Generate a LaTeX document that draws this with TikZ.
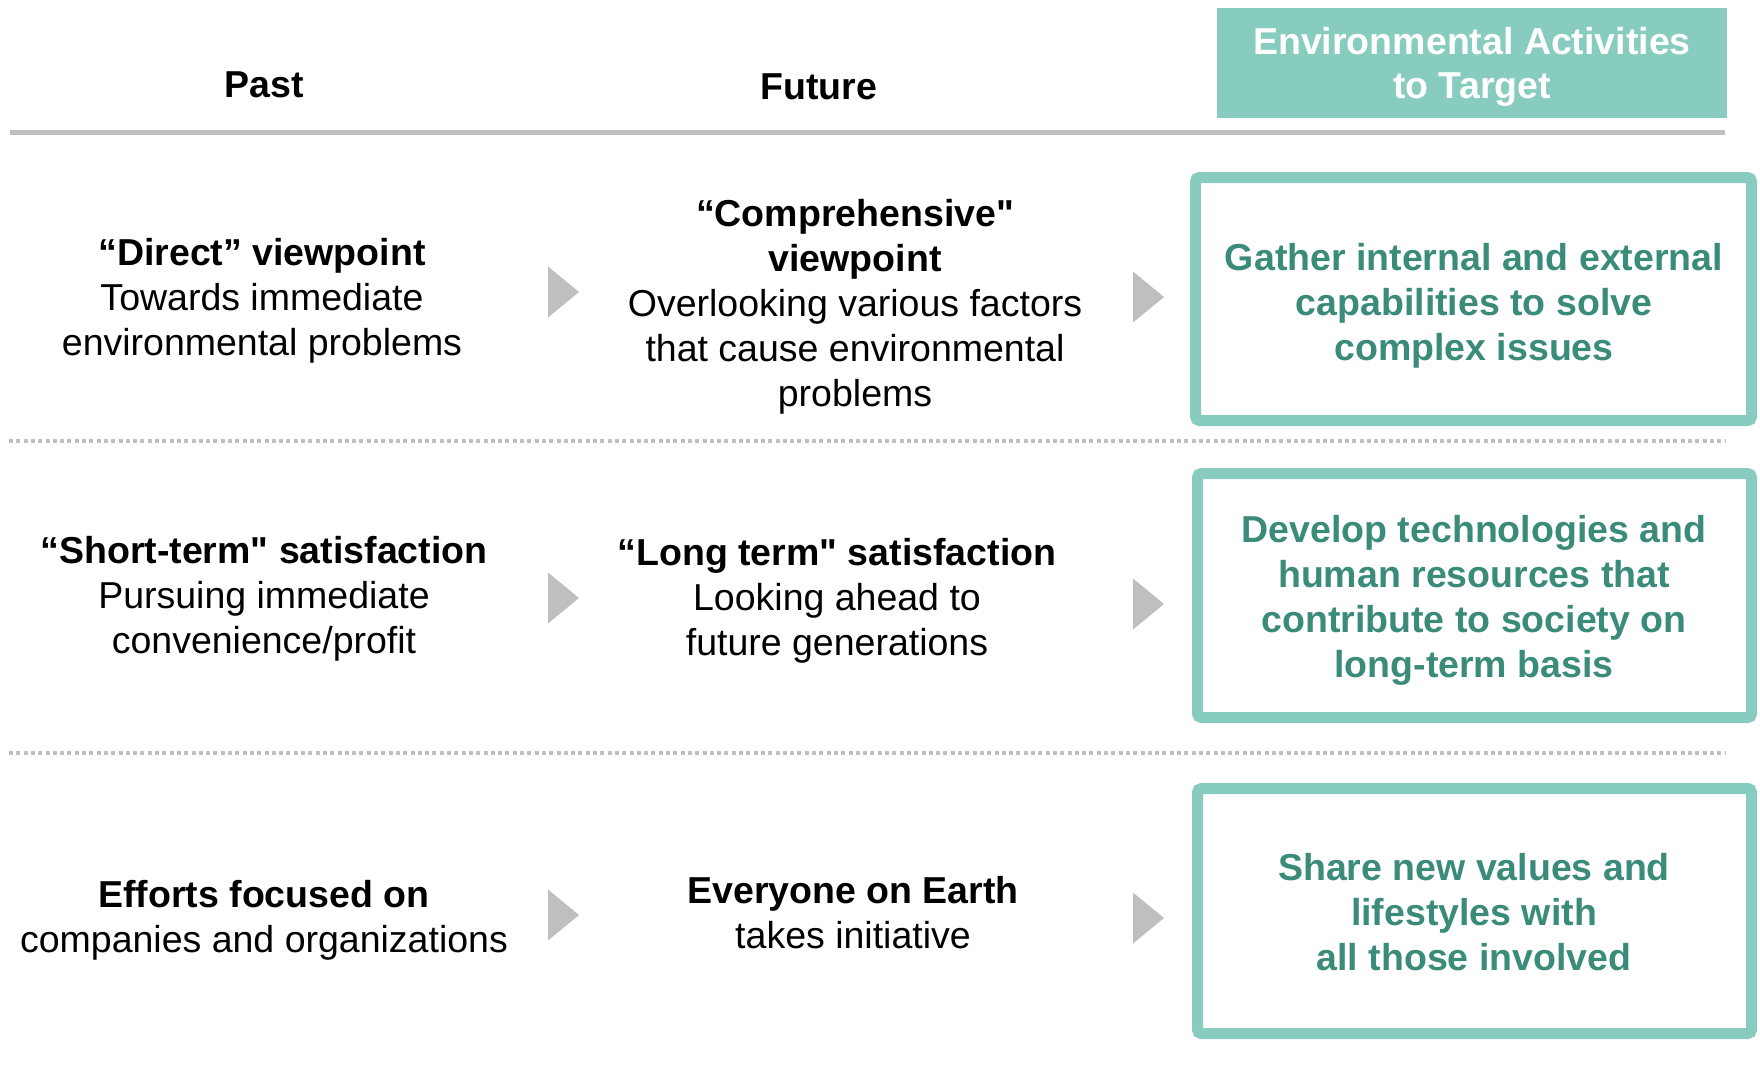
\documentclass[tikz,border=0pt]{standalone}
\usepackage{fontspec}
\setmainfont{Liberation Sans}[Ligatures=TeXOff]
\definecolor{tealfill}{HTML}{88CBBF}
\definecolor{tealtext}{HTML}{3B8B7B}
\definecolor{lgray}{HTML}{BFBFBF}
\begin{document}
\begin{tikzpicture}[x=1pt,y=-1pt,
  every node/.style={inner sep=0pt,outer sep=0pt,align=center,font=\fontsize{37.5}{45}\selectfont},
  plaintext/.style={text=black},
  targettext/.style={text=tealtext,font=\fontsize{37.5}{45}\selectfont\bfseries},
  headtext/.style={font=\fontsize{37.5}{44.5}\selectfont\bfseries},
  frame/.style={draw=tealfill,line width=11pt,rounded corners=4pt},
  rule/.style={draw=lgray,line width=5pt},
  dotrule/.style={draw=lgray,line width=4pt,dash pattern=on 4pt off 3.3pt},
  tri/.style={fill=lgray}
]
\useasboundingbox (0,0) rectangle (1760,1073);
\fill[white] (0,0) rectangle (1760,1073);

% header
\node[headtext] (past) at (264,85) {Past};
\node[headtext] (future) at (819,87) {Future};
\fill[tealfill] (1217,8) rectangle (1727,118);
\node[headtext,text=white] (target) at (1472,67) {Environmental Activities\\to Target};
\coordinate (ruleL) at (10,132);
\coordinate (ruleR) at (1725,132);
\draw[rule] (ruleL) -- (ruleR);

% separators
\coordinate (d1L) at (9,441);
\coordinate (d1R) at (1725,441);
\coordinate (d2L) at (9,753);
\coordinate (d2R) at (1725,753);
\draw[dotrule] (d1L) -- (d1R);
\draw[dotrule] (d2L) -- (d2R);

% row 1
\node[plaintext] (p1) at (262,300.5) {\textbf{“Direct” viewpoint}\\Towards immediate\\environmental problems};
\node[plaintext] (f1) at (855,307) {\textbf{“Comprehensive"}\\\textbf{viewpoint}\\Overlooking various factors\\that cause environmental\\problems};
\draw[frame] (1195.5,177.5) rectangle (1751.5,420.5);
\node[targettext] (t1) at (1474,305.5) {Gather internal and external\\capabilities to solve\\complex issues};

% row 2
\node[plaintext] (p2) at (264,598.5) {\textbf{“Short-term" satisfaction}\\Pursuing immediate\\convenience/profit};
\node[plaintext] (f2) at (837,600.5) {\textbf{“Long term" satisfaction}\\Looking ahead to\\future generations};
\draw[frame] (1197.5,473.5) rectangle (1751.5,717.5);
\node[targettext] (t2) at (1474,600.5) {Develop technologies and\\human resources that\\contribute to society on\\long-term basis};

% row 3
\node[plaintext] (p3) at (264,920) {\textbf{Efforts focused on}\\companies and organizations};
\node[plaintext] (f3) at (853,913) {\textbf{Everyone on Earth}\\takes initiative};
\draw[frame] (1197.5,788.5) rectangle (1751.5,1033.5);
\node[targettext] (t3) at (1474,912.5) {Share new values and\\lifestyles with\\all those involved};

% arrows (triangles)
\foreach \n/\x/\y in {a1/548/292, a2/548/598, a3/548/915, b1/1133/297, b2/1133/604, b3/1133/918}{
  \coordinate (\n) at (\x,\y);
  \fill[tri] (\n) ++(0,-25.5) -- ++(31,25.5) -- ++(-31,25.5) -- cycle;
}
\end{tikzpicture}
\end{document}
